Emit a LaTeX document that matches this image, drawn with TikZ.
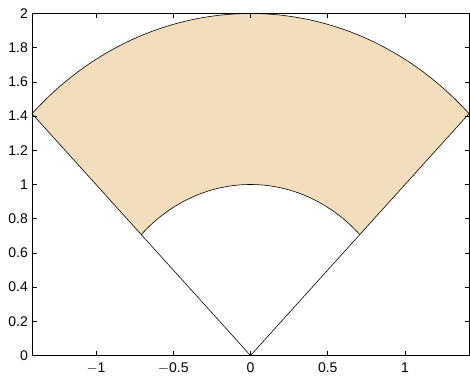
\documentclass[tikz,border=0pt]{standalone}
\usepackage{fontspec}
\setmainfont{Liberation Sans}
\definecolor{wheat}{RGB}{242,222,189}
\begin{document}
\begin{tikzpicture}[x=1pt,y=1pt,
  ticklab/.style={font=\fontsize{14}{16}\selectfont,inner sep=0pt},
  curve/.style={line width=0.6pt,black},
  axisline/.style={line width=0.6pt,black}]
\useasboundingbox (0,0) rectangle (470,380);
\fill[white] (0,0) rectangle (470,380);
\begin{scope}[shift={(250.5,24.5)},x=154.5pt,y=171pt]
  % filled sector
  \fill[wheat] plot[domain=45:135,samples=60] ({2*cos(\x)},{2*sin(\x)})
     -- plot[domain=135:45,samples=60] ({cos(\x)},{sin(\x)}) -- cycle;
  \coordinate (O) at (0,0);
  \coordinate (L) at (-1.41421,1.41421);
  \coordinate (R) at (1.41421,1.41421);
  \draw[curve] (R) -- (O) -- (L);
  \draw[curve] plot[domain=45:135,samples=80] ({2*cos(\x)},{2*sin(\x)});
  \draw[curve] plot[domain=45:135,samples=80] ({cos(\x)},{sin(\x)});
  % axes box
  \draw[axisline] (-1.41421,0) rectangle (1.41421,2);
  % x ticks
  \foreach \v/\t [count=\i] in {-1/$-$1,-0.5/$-$0.5,0/0,0.5/0.5,1/1}{
    \draw[axisline] (\v,0) -- ++(0,4.5pt);
    \draw[axisline] (\v,2) -- ++(0,-4.5pt);
    \node[ticklab,anchor=north] (xl\i) at ([yshift=-7pt]\v,0) {\t};
  }
  % y ticks
  \foreach \v [count=\i] in {0,0.2,0.4,0.6,0.8,1,1.2,1.4,1.6,1.8,2}{
    \draw[axisline] (-1.41421,\v) -- ++(4.5pt,0);
    \draw[axisline] (1.41421,\v) -- ++(-4.5pt,0);
    \node[ticklab,anchor=east] (yl\i) at ([xshift=-4pt]-1.41421,\v) {\v};
  }
\end{scope}
\end{tikzpicture}
\end{document}
